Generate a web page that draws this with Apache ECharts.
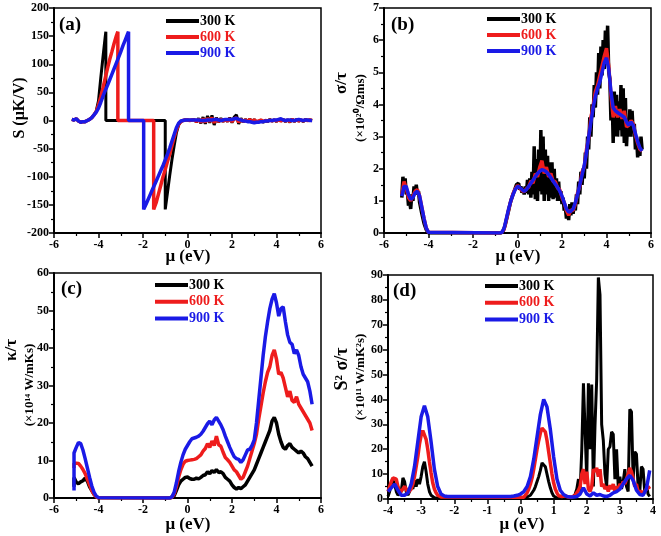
<!DOCTYPE html>
<html><head><meta charset="utf-8">
<script src="https://cdn.jsdelivr.net/npm/echarts@6/dist/echarts.min.js"></script>
<style>html,body{margin:0;padding:0;background:#fff}#c{width:661px;height:536px}</style>
</head><body><div id="c"></div>
<script>
function range(a,b,s){const n=Math.round((b-a)/s);const o=[];for(let i=0;i<=n;i++)o.push(Math.round((a+i*s)*1000)/1000);return o;}

// ---------- Panel (a): Seebeck S (uK/V) ----------
const muA300 = range(-5.2,-3.7,0.1).concat([-3.67,-3.67,-1.0,-1.0]).concat(range(-0.9,5.6,0.1));
const sA300 = [2,1,3,-1,-3,-2,-2,0,2,5,10,17,35,75,112,148, 158,0,0,-158,
 -128,-98,-70,-45,-22,-8,-2,0,1,
 1,0,1,2,-3,4,-5,6,-6,8, -4,9,-8,5,-3,4,-2,3,-2,5, -4,6,10,-6,4,-3,2,-2,3,-4,
 2,-3,-2,1,-3,0,-2,2,-1,1, -2,3,-1,2,-2,1,-3,3,-2,2, -1,1,-2,2,0,1,0];
const muA600 = range(-5.2,-3.2,0.1).concat([-3.13,-3.13,-1.52,-1.52]).concat(range(-1.4,5.6,0.1));
const sA600 = [2,1,3,-1,-3,-2,-2,0,2,5,10,16,28,42,58,75,92,108,122,137,150, 158,0,0,-158,
 -145,-130,-115,-100,-87,-73,-60,-45,-30,-17,-7,-2,0,1,
 1,0,1,1,-2,2,-3,3,-3,4, -2,5,-4,3,-2,2,-1,2,-1,3, -2,3,5,-3,2,-2,1,-1,2,-2,
 1,-2,-1,1,-2,0,-1,1,-1,1, -1,2,-1,1,-1,1,-2,2,-1,1, -1,1,-1,1,0,1,0];
const muA900 = range(-5.2,-2.7,0.1).concat([-2.65,-2.65,-1.97,-1.97]).concat(range(-1.9,5.6,0.1));
const sA900 = [2,1,3,-1,-3,-2,-2,0,2,5,10,15,22,32,43,53,62,72,82,92,102,112,122,133,143,153, 158,0,0,-158,
 -152,-143,-134,-125,-116,-107,-98,-89,-80,-70,-60,-49,-37,-25,-13,-5,-1,0,1,
 1,1,1,1,1,1,0,0,0,1, 1,1,2,2,1,0,1,2,2,2, 2,3,4,2,1,-1,-1,-2,-2,-3,
 -4,-3,-3,-2,-2,-1,-1,0,0,1, 1,2,3,1,0,1,1,0,0,1, 2,1,0,1,1,0,0];

// ---------- Panel (b): sigma/tau ----------
const muB = range(-5.2,-4.0,0.1).concat([-0.8]).concat(range(-0.7,5.6,0.1));
const sigB900 = [1.15,1.45,1.45,1.2,1.05,1.1,1.25,1.3,1.15,0.8,0.45,0.15,0.02, 0,
 0.02,0.15,0.45,0.75,1.0,1.2,1.35,1.45,1.42,1.35,
 1.3,1.35,1.45,1.55,1.65,1.75,1.85,1.92,1.97,1.95,
 1.9,1.82,1.72,1.62,1.52,1.42,1.3,1.15,0.95,0.75,
 0.65,0.68,0.75,0.95,1.2,1.5,1.8,2.1,2.5,3.0,
 3.45,3.9,4.25,4.5,4.7,5.0,5.3,5.45,5.1,4.4,
 3.9,3.8,3.75,3.7,3.65,3.6,3.45,3.35,3.45,3.35,
 3.1,2.85,2.65,2.55];
const sigB600 = [1.2,1.6,1.4,1.1,1.0,1.15,1.3,1.35,1.15,0.8,0.45,0.15,0.02, 0,
 0.02,0.12,0.42,0.72,1.0,1.22,1.38,1.48,1.4,1.32,
 1.28,1.38,1.42,1.62,1.55,1.85,1.75,2.05,2.25,1.85,
 2.05,1.75,1.85,1.6,1.6,1.4,1.35,1.1,0.95,0.7,
 0.55,0.72,0.7,0.9,1.25,1.45,1.9,2.05,2.6,2.95,
 3.6,3.95,4.4,4.6,4.9,5.2,5.5,5.75,5.2,4.3,
 3.6,3.95,3.6,3.85,3.55,3.8,3.3,3.35,3.5,3.4,
 3.05,2.8,2.6,2.55];
const muB300 = range(-5.2,-4.0,0.05).concat([-0.75]).concat(range(-0.7,5.6,0.05));
const sigB300 = [1.1,1.75,1.3,1.7,1.2,1.3,0.85,1.0,0.75,1.2, 1.0,1.45,1.2,1.5,1.2,1.3,0.95,0.9,0.6,0.45, 0.3,0.2,0.1,0.04,0.0,
 0,
 0.02,0.05,0.1,0.25,0.4,0.55,0.7,0.85,1.0,1.1,
 1.2,1.3,1.35,1.5,1.45,1.55,1.35,1.45,1.25,1.4,
 1.2,1.45,1.25,1.65,1.2,1.7,1.1,1.9,1.2,2.7,
 1.05,2.3,1.0,2.6,1.3,3.2,1.2,3.0,1.0,2.6,
 1.2,2.4,1.0,2.2,1.1,2.2,1.05,2.0,1.1,1.7,
 1.0,1.6,1.0,1.3,0.9,1.1,0.7,0.8,0.45,0.7,
 0.4,0.9,0.55,0.95,0.6,0.9,0.7,1.2,0.9,1.6,
 1.2,1.9,1.5,2.0,1.7,2.5,2.0,3.0,2.6,3.6,
 3.0,4.0,3.6,4.6,3.9,5.0,4.3,5.6,4.5,5.8,
 4.9,6.0,5.1,6.3,5.5,6.45,5.0,4.8,3.5,4.4,
 2.8,4.4,3.0,4.3,3.0,4.1,3.2,4.6,3.0,4.5,
 2.8,4.2,2.7,3.5,3.0,3.85,3.0,3.8,3.1,3.4,
 2.6,3.0,2.35,2.8,2.4,3.0,2.6];

// ---------- Panel (c): kappa/tau ----------
const muC = [-5.1].concat(range(-5.1,-4.0,0.1)).concat([-0.8]).concat(range(-0.7,5.6,0.1));
const kapC900 = [2, 12,13.5,14.8,14.5,12.8,10.5,8,5.5,3.2,1.5,0.5,0.1, 0,
 0.3,1.5,4,7,9.5,11.5,13,14,15,15.8,
 16,16.2,16.5,17,17.8,18.8,19.8,20.5,19.5,20.8,
 21.5,20.5,19.5,18.2,16.5,15,13.5,12.2,11,10.5,
 10.3,9.5,10.2,11.5,12.8,13,14,15.5,20,26,
 32,38,43,47,50.5,53,54.5,52,48.5,50.5,
 51,47,43.5,41.5,41,38.5,39.5,38,35,33,
 32,31,28.5,25];
const kapC600 = [8, 9.2,9.3,9.2,8.5,7.6,6.5,5,3.5,2,1,0.3,0.05, 0,
 0.2,1,3,5.5,7.5,9,9.8,10,10.1,10.2,
 10.3,10.5,11,11.5,12.5,13.2,14.5,13.5,15.2,14,
 16.5,14.2,13.8,12.2,10.8,10.2,9.5,8.5,7.5,7,
 6,5,5.5,7,8.5,10.5,12.5,14.5,17,21,
 24.5,28,31,33.5,35,38,39.5,37,33,33.5,
 32,29.5,27,28.5,26,25.5,27,25,24,23,
 22,21,20,18];
const kapC300 = [3, 5.5,4.2,3.8,4.3,4.6,5.3,4.5,3,2,1,0.3,0.05, 0,
 0.2,0.6,2,3.5,4.5,5,5.5,5.6,5.2,5,
 5,5.3,5.1,5.5,6,6.2,7,6.5,7.3,6.8,
 7.6,6.8,7,6.5,5.5,5,4.5,3.5,2.8,2.4,
 2.8,2.5,3,3.5,4.5,5.5,6.5,7.5,9,10.5,
 12,13.5,15,16.5,18,20.5,21.5,20,17,15,
 13.5,13,14,14.5,13.5,13,12.5,12,12.5,12,
 11,10.5,9.5,8.5];

// ---------- Panel (d): power factor S^2 sigma/tau ----------
const muD = range(-4,3.9,0.1);
const pfD900 = [3,4.5,6,3.5,1.5,1.5,2.5,6,13,23,
 33,37.5,33,23,12,5,2,1.2,1,1,
 1,1,1,1,1,1,1,1,1,1,
 1,1,1,1,1,1,1,1,1.2,1.5,
 2,3,5,9,16,25,34,40,37,28,
 17,8,3.5,1.8,1,0.8,0.8,1,2,4.5,
 2,1.2,2.5,1.5,1.8,1.2,1,1.5,2.5,3,
 4,6,8,9.5,7.5,3.5,1.8,1.5,4,11.5];
const muD2 = range(-4,-2.4,0.05).concat([0.1]).concat(range(0.15,3.9,0.05));
const pfD600 = [3,5,7,8.5,8.8,8,5,2.5,2,4,
 5,4,2.5,3,4,6,9,13,17,22,
 25.5,27.5,27,24,20,15,10.5,6.5,4,2.5,
 1.5,1,0.8,
 0.7,
 1.5,2.5,4,6,8.5,12,16,20,23.5,26.5,
 28.5,29,27,23.5,19,14.5,10,6.5,4,2.5,
 1.3,1,1,1.5,1.3,1,0.8,0.8,0.8,1,
 1.5,2.5,3.5,5,10,12,6,11,4,3,
 5,12,11,12.5,9,12,5,6,4,5,
 3,5.5,4,6,3,5,4,6,5,7,
 6,8,10,12.5,11,8,5,6,3,2.5,
 3,2,2.5,4,5,4];
const pfD300 = [1,3,6,7.5,6,3,1.5,1,3,8.5,
 7,3,1.5,3,6,4,7.5,5,8,6,
 9,13,15,11,6,3,1.5,0.8,0.5,0.4,
 0.4,0.3,0.3,
 0.3,
 0.5,0.8,1,1.5,2.5,3.5,5,7,9,11.5,
 14.5,15,13,10,7,4.5,2.5,1.2,0.6,0.4,
 0.3,0.5,1,1.5,1,0.5,0.3,0.3,0.5,1,
 2,4,8,3,20,46.5,47,8,46.5,20,
 46,5,30,48,89,82,30,23.5,10,5,
 20,21,27,26,8,20,5,9,4,7,
 12,5,3,36,35,8,19,18,5,3,
 13,12,3,6,2,1];

const tempNames = ['300 K','600 K','900 K'];
const C_BLACK = '#000000', C_RED = '#ee1c1c', C_BLUE = '#1a1ae6';
const FONT = '"Liberation Serif","Times New Roman",serif';

function pairs(xs, ys){ return xs.map((x,i)=>[x, ys[i]]); }
function line(name,color,width,gi,xs,ys,z){
  return {type:'line',name:name,xAxisIndex:gi,yAxisIndex:gi,data:pairs(xs,ys),
    showSymbol:false,symbol:'none',color:color,lineStyle:{color:color,width:width},
    itemStyle:{color:color},z:z,animation:false,clip:true,silent:true};
}
function axisCommon(min,max,interval,gi,margin){
  return {type:'value',gridIndex:gi,min:min,max:max,interval:interval,
    axisLine:{show:true,onZero:false,lineStyle:{color:'#000',width:2}},
    axisTick:{show:true,inside:false,length:5,lineStyle:{color:'#000',width:1.5}},
    minorTick:{show:true,splitNumber:2,length:3,lineStyle:{color:'#000',width:1.2}},
    splitLine:{show:false},minorSplitLine:{show:false},
    axisLabel:{color:'#000',fontFamily:FONT,fontSize:12,fontWeight:'bold',margin:margin}};
}
function legend(left,top,gap){
  return {left:left,top:top,orient:'vertical',itemWidth:33,itemHeight:4,itemGap:gap,icon:'rect',
    selectedMode:false,padding:0,
    textStyle:{fontFamily:FONT,fontSize:14,fontWeight:'bold',lineHeight:14,padding:[0,0,0,-4]},
    data:[{name:tempNames[0],textStyle:{color:C_BLACK}},{name:tempNames[1],textStyle:{color:C_RED}},{name:tempNames[2],textStyle:{color:C_BLUE}}]};
}
function txt(x,y,text,size,rot,align){
  return {type:'text',x:x,y:y,rotation:rot||0,silent:true,
    style:{text:text,font:'bold '+size+'px '+FONT,fill:'#000',
      textAlign:align||'center',align:align||'center',textVerticalAlign:'middle',verticalAlign:'middle'}};
}
const R = Math.PI/2;

const option = {
  backgroundColor:'#fff',
  animation:false,
  grid:[
    {left:54,top:8,width:267,height:225,show:true,borderColor:'#000',borderWidth:1.5,outerBoundsMode:'none'},
    {left:384,top:8,width:267,height:225,show:true,borderColor:'#000',borderWidth:1.5,outerBoundsMode:'none'},
    {left:54,top:273,width:267,height:225,show:true,borderColor:'#000',borderWidth:1.5,outerBoundsMode:'none'},
    {left:388,top:275,width:265,height:224,show:true,borderColor:'#000',borderWidth:1.5,outerBoundsMode:'none'}
  ],
  xAxis:[axisCommon(-6,6,2,0,6),axisCommon(-6,6,2,1,6),axisCommon(-6,6,2,2,6),axisCommon(-4,4,1,3,6)],
  yAxis:[axisCommon(-200,200,50,0,5),axisCommon(0,7,1,1,5),axisCommon(0,60,10,2,5),axisCommon(0,90,10,3,5)],
  legend:[legend(166,14,2),legend(487,12,2),legend(155,278,2.7),legend(485,279,2.7)],
  series:[
    line(tempNames[0],C_BLACK,3,0,muA300,sA300,2),
    line(tempNames[1],C_RED,3.5,0,muA600,sA600,3),
    line(tempNames[2],C_BLUE,3.5,0,muA900,sA900,4),
    line(tempNames[0],C_BLACK,3.5,1,muB300,sigB300,2),
    line(tempNames[1],C_RED,3.5,1,muB,sigB600,3),
    line(tempNames[2],C_BLUE,3.5,1,muB,sigB900,4),
    line(tempNames[0],C_BLACK,3.5,2,muC,kapC300,2),
    line(tempNames[1],C_RED,3.5,2,muC,kapC600,3),
    line(tempNames[2],C_BLUE,3.5,2,muC,kapC900,4),
    line(tempNames[0],C_BLACK,3,3,muD2,pfD300,2),
    line(tempNames[1],C_RED,3.5,3,muD2,pfD600,3),
    line(tempNames[2],C_BLUE,3.5,3,muD,pfD900,4)
  ],
  graphic:[
    txt(59,25,'(a)',19,0,'left'), txt(391,25,'(b)',19,0,'left'),
    txt(61,289,'(c)',19,0,'left'), txt(393,291,'(d)',19,0,'left'),
    txt(188,257,'μ (eV)',17), txt(518,257,'μ (eV)',17),
    txt(188,525,'μ (eV)',17), txt(522,525,'μ (eV)',17),
    txt(20,108,'S (μK/V)',16,R),
    txt(342,83,'σ/τ',17,R), txt(361,108,'(×10²⁰/Ωms)',13,R),
    txt(12,350,'κ/τ',17,R), txt(30,385,'(×10¹⁴ W/mKs)',13,R),
    txt(342,369,'S² σ/τ',18,R), txt(361,377,'(×10¹¹ W/mK²s)',13,R)
  ]
};
const chart = echarts.init(document.getElementById('c'),null,{renderer:'canvas'});
chart.setOption(option);
</script></body></html>
